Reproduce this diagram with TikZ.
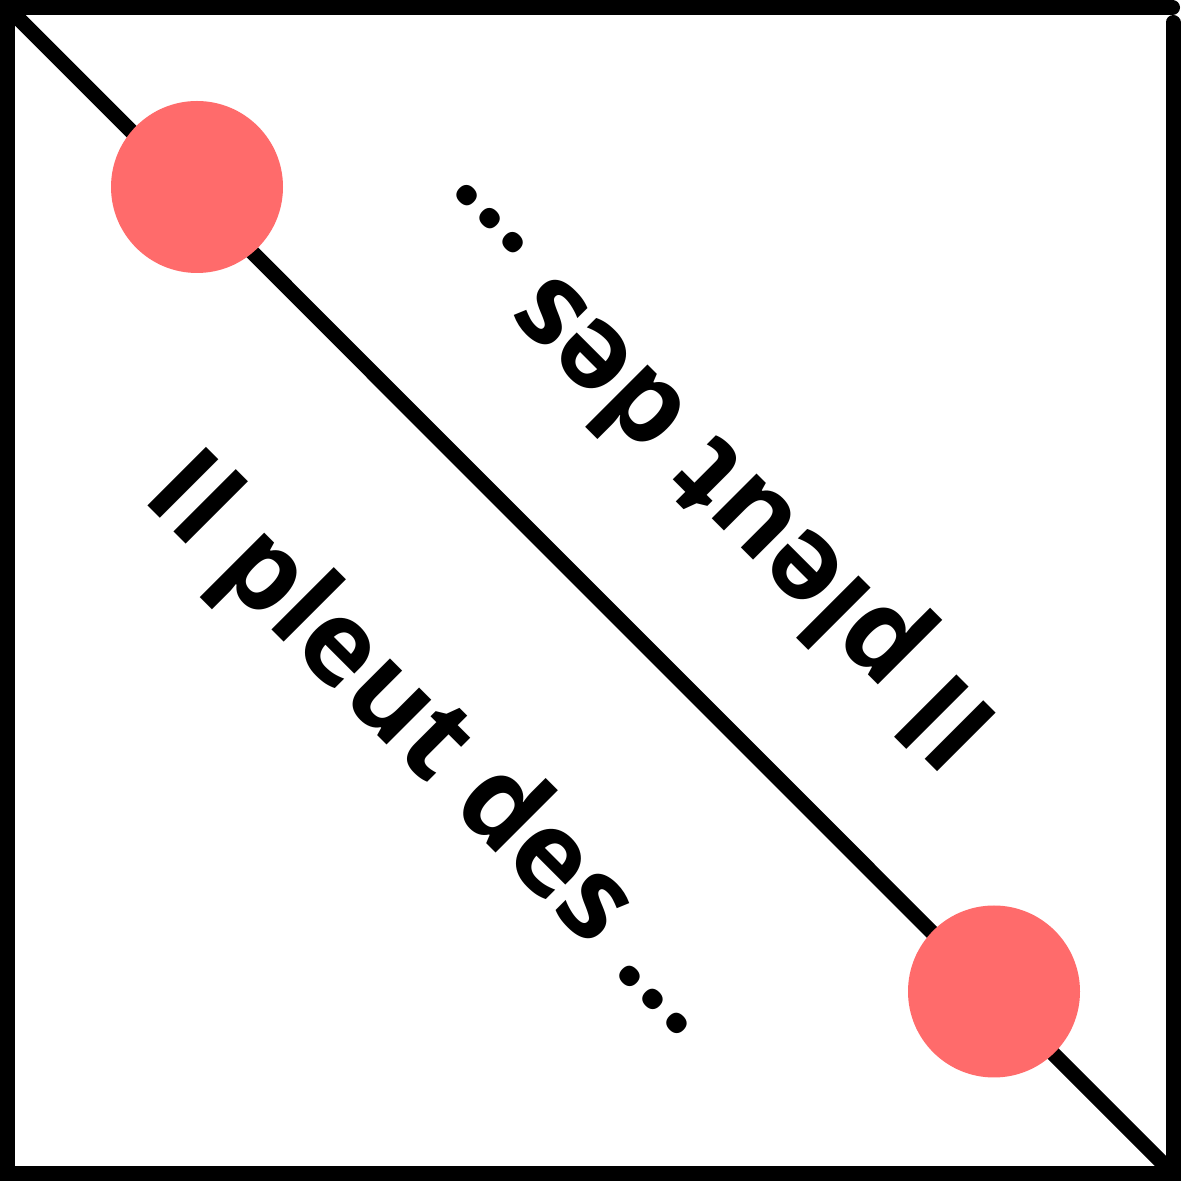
\documentclass[tikz,border=0pt]{standalone}
\usepackage{fontspec}
\setmainfont{Open Sans}
\tikzset{
  frame/.style={line width=15pt, line cap=round, line join=miter, draw=black},
  diag/.style={line width=15pt, draw=black},
  reddot/.style={circle, fill=dotred, draw=none, minimum size=172pt, inner sep=0pt},
  lbl/.style={anchor=base, inner sep=0pt, font=\fontsize{116}{120}\selectfont\bfseries}
}
\definecolor{dotred}{HTML}{FF6B6B}
\begin{document}
\begin{tikzpicture}[x=1pt,y=1pt]
\useasboundingbox (0,0) rectangle (1181,1181);
\fill[white] (0,0) rectangle (1181,1181);
\coordinate (tl) at (7.5,1173.5);
\coordinate (br) at (1173,7.5);
\draw[frame] (1173,1158.5) -- (1173,7.5) -- (7.5,7.5) -- (7.5,1173.5) -- (1172.5,1173.5);
\draw[diag] (tl) -- (br);
\node[reddot] (c1) at (197,994) {};
\node[reddot] (c2) at (994,189.5) {};
\node[lbl, rotate=-45] (t1) at (411.6,411.6) {Il pleut des ...};
\node[lbl, rotate=135] (t2) at (731.9,731.9) {Il pleut des ...};
\end{tikzpicture}
\end{document}
